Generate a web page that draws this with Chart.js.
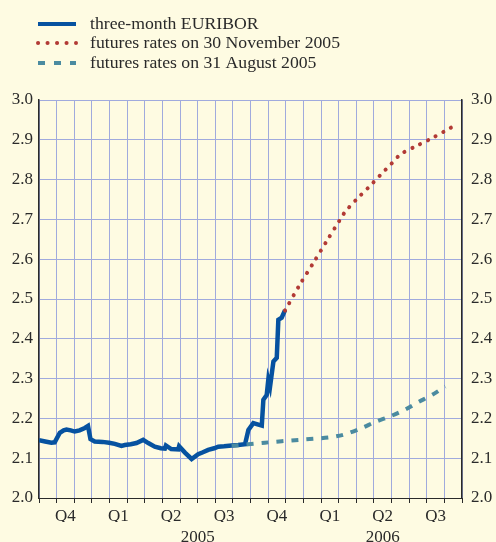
<!DOCTYPE html>
<html>
<head>
<meta charset="utf-8">
<script src="https://cdn.jsdelivr.net/npm/chart.js@4"></script>
<style>
  html, body { margin: 0; padding: 0; background: #fefbe2; }
  #wrap { width: 496px; height: 542px; }
</style>
</head>
<body>
<div id="wrap"><canvas id="chart"></canvas></div>
<script>
// x values are months counted from 1 October 2004
const euriborMonths = [0, 0.35, 0.7, 0.89, 1.18, 1.4, 1.56, 1.8, 2.03, 2.3, 2.6, 2.78, 2.92, 3.16, 3.6, 3.98, 4.3, 4.68, 4.87, 5.2, 5.53, 5.91, 6.2, 6.57, 6.91, 7.14, 7.2, 7.5, 7.9, 7.95, 8.28, 8.66, 9.03, 9.3, 9.6, 9.94, 10.17, 10.5, 10.93, 11.3, 11.69, 11.88, 12.16, 12.4, 12.64, 12.73, 12.92, 13.01, 13.11, 13.3, 13.49, 13.58, 13.77, 13.96];
const euriborRates  = [2.145, 2.142, 2.139, 2.140, 2.164, 2.170, 2.172, 2.170, 2.167, 2.170, 2.176, 2.181, 2.148, 2.142, 2.141, 2.139, 2.136, 2.131, 2.133, 2.135, 2.138, 2.146, 2.138, 2.129, 2.125, 2.124, 2.132, 2.123, 2.122, 2.130, 2.114, 2.098, 2.110, 2.115, 2.121, 2.125, 2.129, 2.130, 2.132, 2.133, 2.135, 2.171, 2.188, 2.185, 2.182, 2.247, 2.259, 2.297, 2.280, 2.343, 2.352, 2.448, 2.453, 2.472];

const novMonths = [13.96, 14.81, 15.57, 16.33, 17.09, 17.37, 18.03, 18.69, 19.36, 20.02, 20.53, 21.44, 22.30, 23.15, 23.56];
const novRates  = [2.471, 2.537, 2.591, 2.646, 2.700, 2.719, 2.751, 2.780, 2.811, 2.841, 2.864, 2.885, 2.904, 2.925, 2.935];

const augMonths = [10.93, 12.82, 14.72, 16.42, 17.27, 18.32, 19.07, 19.92, 20.77, 21.53, 22.30, 23.05];
const augRates  = [2.131, 2.139, 2.146, 2.152, 2.159, 2.176, 2.191, 2.205, 2.222, 2.241, 2.259, 2.280];

const quarterLabels = ["Q4", "Q1", "Q2", "Q3", "Q4", "Q1", "Q2", "Q3"];
const yearLabels = ["2005", "2006"];
const yearCentres = [9, 19.5];

const seriesNames = ["three-month EURIBOR", "futures rates on 30 November 2005", "futures rates on 31 August 2005"];

const FONT = "'Liberation Serif', 'Times New Roman', serif";
const blue = "#0652a0";
const red = "#b23a35";
const teal = "#4b8ba0";
const gridBlue = "#a0aadd";
const ink = "#2a2a2a";

const toPoints = (xs, ys) => xs.map((x, i) => ({ x: x, y: ys[i] }));

// legend drawn by hand so the dash styles match
const legendPlugin = {
  id: "handLegend",
  afterDraw(chart) {
    const c = chart.ctx;
    const rows = [
      { y: 24, color: blue, dash: [], cap: "butt", width: 4 },
      { y: 43, color: red, dash: [0.1, 9.4], cap: "round", width: 4 },
      { y: 63, color: teal, dash: [7, 9], cap: "butt", width: 4 },
    ];
    c.save();
    rows.forEach((r, i) => {
      c.beginPath();
      c.setLineDash(r.dash);
      c.lineCap = r.cap;
      c.lineWidth = r.width;
      c.strokeStyle = r.color;
      c.moveTo(38, r.y);
      c.lineTo(76, r.y);
      c.stroke();
      c.setLineDash([]);
      c.fillStyle = ink;
      c.font = "17.7px " + FONT;
      c.textBaseline = "middle";
      c.fillText(seriesNames[i], 90, r.y);
    });
    c.restore();
  },
};

new Chart(document.getElementById("chart"), {
  type: "line",
  data: {
    datasets: [
      {
        label: seriesNames[0],
        data: toPoints(euriborMonths, euriborRates),
        borderColor: blue,
        borderWidth: 4.5,
        pointRadius: 0,
        tension: 0,
        order: 3,
      },
      {
        label: seriesNames[1],
        data: toPoints(novMonths, novRates),
        borderColor: red,
        borderWidth: 4,
        borderDash: [0.1, 8.6],
        borderCapStyle: "round",
        pointRadius: 0,
        tension: 0.3,
        order: 1,
      },
      {
        label: seriesNames[2],
        data: toPoints(augMonths, augRates),
        borderColor: teal,
        borderWidth: 4,
        borderDash: [7, 8],
        pointRadius: 0,
        tension: 0.3,
        order: 2,
      },
    ],
  },
  options: {
    responsive: true,
    maintainAspectRatio: false,
    animation: false,
    layout: { padding: { top: 100, left: 0, right: 0, bottom: 0 } },
    plugins: { legend: { display: false }, tooltip: { enabled: false } },
    scales: {
      x: {
        type: "linear",
        min: 0,
        max: 24,
        afterBuildTicks: (scale) => {
          const t = [];
          for (let v = 0; v <= 24; v += 0.5) t.push({ value: v });
          scale.ticks = t;
        },
        afterFit: (scale) => { scale.height = 24; },
        grid: {
          color: (ctx) => (ctx.tick && Number.isInteger(ctx.tick.value) ? gridBlue : "rgba(0,0,0,0)"),
          tickColor: (ctx) => (ctx.tick && Number.isInteger(ctx.tick.value) ? ink : "rgba(0,0,0,0)"),
          tickLength: 5,
          lineWidth: 1,
        },
        border: { color: ink, width: 1 },
        ticks: {
          autoSkip: false,
          maxRotation: 0,
          padding: 3,
          color: ink,
          font: { family: FONT, size: 17 },
          callback: (v) => {
            const q = (v - 1.5) / 3;
            return Number.isInteger(q) ? quarterLabels[q] : "";
          },
        },
      },
      x2: {
        type: "linear",
        position: "bottom",
        min: 0,
        max: 24,
        afterBuildTicks: (scale) => { scale.ticks = yearCentres.map((v) => ({ value: v })); },
        afterFit: (scale) => { scale.height = 20; },
        grid: { display: false, drawTicks: false },
        border: { display: false },
        ticks: {
          autoSkip: false,
          maxRotation: 0,
          padding: 5,
          color: ink,
          font: { family: FONT, size: 17 },
          callback: (v) => yearLabels[yearCentres.indexOf(v)],
        },
      },
      y: {
        position: "left",
        min: 2.0,
        max: 3.0,
        afterFit: (scale) => { scale.width = 39; },
        grid: { color: gridBlue, drawTicks: false, lineWidth: 1 },
        border: { color: ink, width: 1.5 },
        ticks: {
          stepSize: 0.1,
          padding: 6,
          color: ink,
          font: { family: FONT, size: 17 },
          callback: (v) => Number(v).toFixed(1),
        },
      },
      y2: {
        position: "right",
        min: 2.0,
        max: 3.0,
        afterFit: (scale) => { scale.width = 34; },
        grid: { display: false, drawTicks: false },
        border: { color: ink, width: 1.5 },
        ticks: {
          stepSize: 0.1,
          padding: 9,
          color: ink,
          font: { family: FONT, size: 17 },
          callback: (v) => Number(v).toFixed(1),
        },
      },
    },
  },
  plugins: [legendPlugin],
});
</script>
</body>
</html>
